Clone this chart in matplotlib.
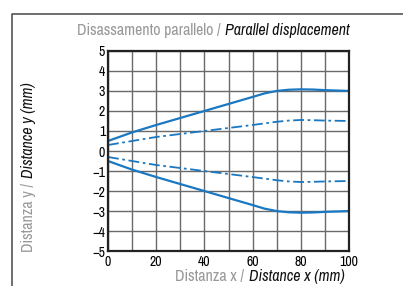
import matplotlib.pyplot as plt
from matplotlib import font_manager
from matplotlib.lines import Line2D
import numpy as np

# prefer a narrow sans if one is installed, else Liberation Sans
narrow = [f.name for f in font_manager.fontManager.ttflist
          if 'Narrow' in f.name or 'Condensed' in f.name]
FONT = narrow[0] if narrow else 'Liberation Sans'
SIZE = 11.5 if narrow else 9
plt.rcParams['font.family'] = [FONT, 'DejaVu Sans']

# data
x = [0, 10, 20, 30, 40, 50, 60, 65, 70, 75, 80, 85, 90, 100]
upper_solid = [0.5, 0.93, 1.3, 1.65, 2.0, 2.35, 2.7, 2.88, 3.0, 3.06, 3.08, 3.07, 3.04, 3.0]
upper_dashdot = [0.3, 0.5, 0.7, 0.85, 1.0, 1.15, 1.3, 1.38, 1.46, 1.52, 1.55, 1.54, 1.52, 1.5]
lower_solid = [-v for v in upper_solid]
lower_dashdot = [-v for v in upper_dashdot]
xticks = [0, 10, 20, 30, 40, 50, 60, 70, 80, 90, 100]
xtick_labels = ['0', '', '20', '', '40', '', '60', '', '80', '', '100']
yticks = [-5, -4, -3, -2, -1, 0, 1, 2, 3, 4, 5]

blue = '#1a78c2'

fig = plt.figure(figsize=(4.03, 2.86), dpi=100)
ax = fig.add_axes([0.268, 0.122, 0.598, 0.70])

ax.plot(x, upper_solid, color=blue, lw=1.6)
ax.plot(x, lower_solid, color=blue, lw=1.6)
ax.plot(x, upper_dashdot, color=blue, lw=1.3, dashes=(6, 2, 1.5, 2))
ax.plot(x, lower_dashdot, color=blue, lw=1.3, dashes=(6, 2, 1.5, 2))

ax.set_xlim(0, 100)
ax.set_ylim(-5, 5)
ax.set_xticks(xticks)
ax.set_xticklabels(xtick_labels)
ax.set_yticks(yticks)
ax.grid(True, color='#6a6a6a', lw=1.0)
ax.set_axisbelow(True)
ax.tick_params(length=0, labelsize=SIZE - 1.5, pad=2)
ax.tick_params(axis='x', pad=3)
for s in ax.spines.values():
    s.set_color('#222222')
    s.set_linewidth(1.6)

# titles, two colours / styles each
fig.text(224 / 403, 1 - 30 / 286, 'Disassamento parallelo / ', ha='right', va='center',
         color='#999999', fontsize=SIZE)
fig.text(225 / 403, 1 - 30 / 286, 'Parallel displacement', ha='left', va='center',
         color='#111111', fontsize=SIZE, style='italic')
fig.text(248 / 403, 1 - 277 / 286, 'Distanza x / ', ha='right', va='center',
         color='#999999', fontsize=SIZE)
fig.text(249 / 403, 1 - 277 / 286, 'Distance x (mm)', ha='left', va='center',
         color='#111111', fontsize=SIZE, style='italic')
fig.text(28 / 403, 1 - 179 / 286, 'Distanza y / ', ha='center', va='top',
         rotation=90, color='#999999', fontsize=SIZE)
fig.text(28 / 403, 1 - 178 / 286, 'Distance y (mm)', ha='center', va='bottom',
         rotation=90, color='#111111', fontsize=SIZE, style='italic')

# outer frame
fig.add_artist(Line2D([12 / 403, 12 / 403, 1], [0, 1 - 14 / 286, 1 - 14 / 286],
                      color='#555555', lw=1.2, transform=fig.transFigure))

fig.savefig('out.png', dpi=100)
